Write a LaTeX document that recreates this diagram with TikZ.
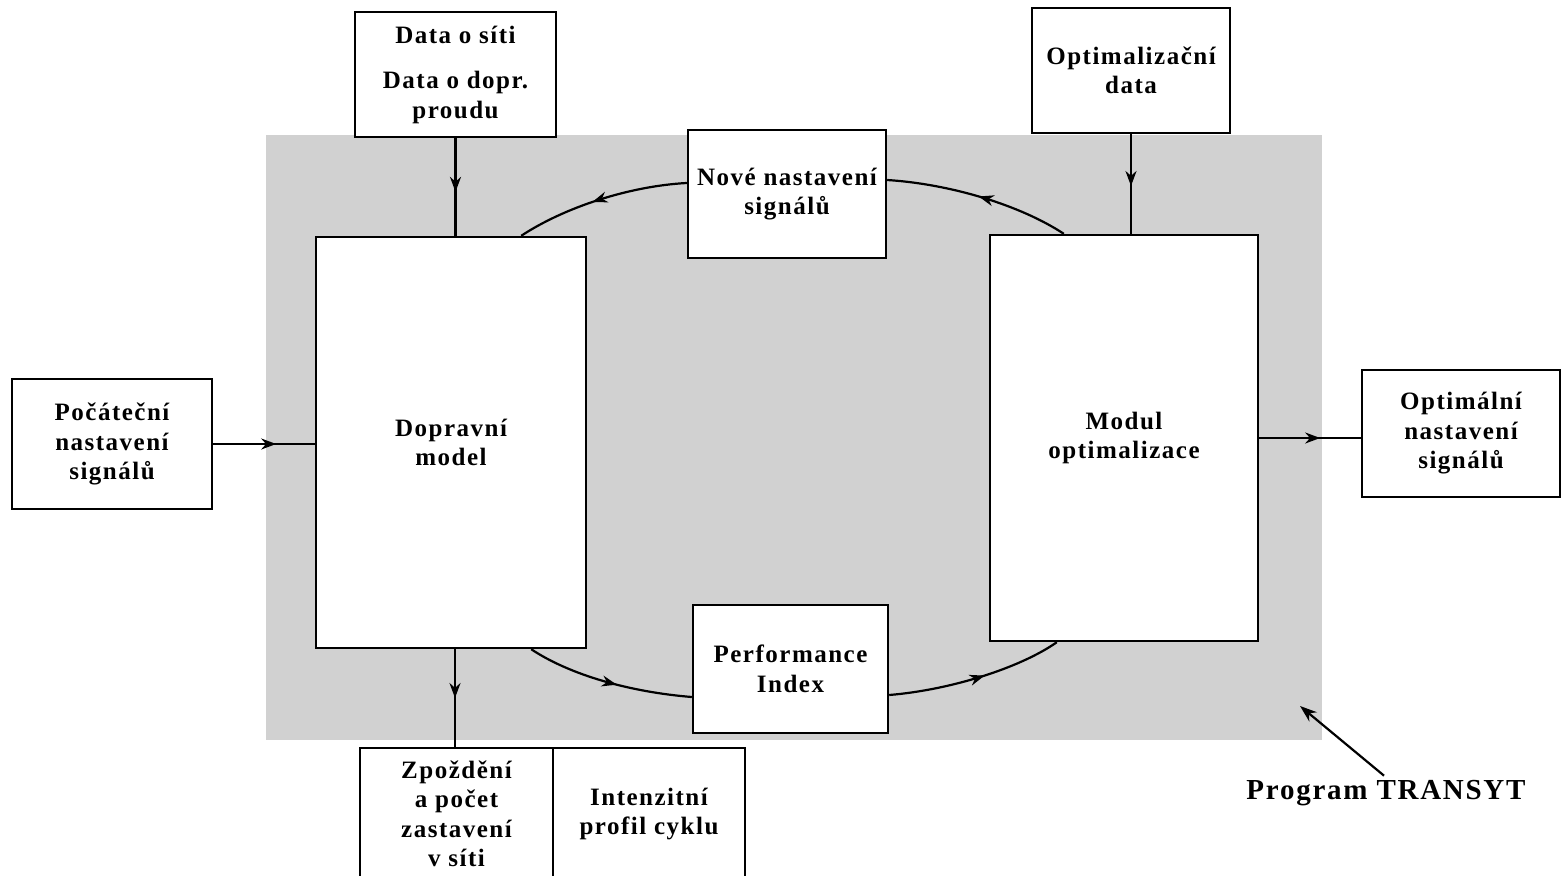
\documentclass[tikz,border=0pt]{standalone}
\usepackage{fontspec}
\setmainfont{Liberation Serif}
\newfontfamily\diafont[LetterSpace=6]{Liberation Serif}
\usetikzlibrary{arrows.meta,decorations.markings,calc}
\tikzset{
  box/.style={draw,line width=2.4pt,fill=white,align=center,inner sep=0pt,
    font=\diafont\bfseries\fontsize{25}{29.5}\selectfont},
  conn/.style={line width=2.2pt},
  midarrow/.style={conn,postaction={decorate},decoration={markings,
    mark=at position #1 with {\arrow{Stealth[length=15pt,width=11pt]}}}},
  shade/.style={fill=black!18,draw=none}
}
\begin{document}
\begin{tikzpicture}[x=1pt,y=-1pt]
\useasboundingbox (0,0) rectangle (1562,875);
\fill[white] (0,0) rectangle (1562,875);
\path[shade] (266,135) rectangle (1322,740);

\node[box,minimum width=201pt,minimum height=125pt] (data) at (455.5,74.5)
  {Data o síti\\[16pt]Data o dopr.\\proudu};
\node[box,minimum width=198pt,minimum height=125pt] (optdata) at (1131,70.5)
  {Optimalizační\\data};
\node[box,minimum width=198pt,minimum height=128pt] (nove) at (787,194)
  {Nové nastavení\\signálů};
\node[box,minimum width=270pt,minimum height=411pt] (dop) at (451,442.5)
  {Dopravní\\model};
\node[box,minimum width=268pt,minimum height=406pt] (modul) at (1124,438)
  {Modul\\optimalizace};
\node[box,minimum width=200pt,minimum height=130pt] (pocat) at (112,444)
  {Počáteční\\nastavení\\signálů};
\node[box,minimum width=198pt,minimum height=127pt] (optim) at (1461,433.5)
  {Optimální\\nastavení\\signálů};
\node[box,minimum width=195pt,minimum height=128pt] (perf) at (790.5,669)
  {Performance\\Index};
\node[box,minimum width=193pt,minimum height=132pt] (zpoz) at (456.5,814)
  {Zpoždění\\a počet\\zastavení\\v síti};
\node[box,minimum width=192pt,minimum height=132pt] (inten) at (649,814)
  {Intenzitní\\profil cyklu};

\node[font=\diafont\bfseries\fontsize{29}{33}\selectfont] (prog) at (1386,793) {Program TRANSYT};
\coordinate (progtip) at (1300,706);

% straight connectors
\draw[midarrow=0.55] (data.south) -- (data.south |- dop.north);
\draw[midarrow=0.52] (optdata.south) -- (optdata.south |- modul.north);
\draw[midarrow=0.62] (pocat.east) -- (pocat.east -| dop.west);
\draw[midarrow=0.6] (modul.east) -- (modul.east -| optim.west);
\draw[midarrow=0.5] ([xshift=4pt]dop.south) -- ([xshift=4pt]dop.south |- zpoz.north);

% arcs
\draw[midarrow=0.55] ([yshift=11pt]nove.west) .. controls (630,186) and (565,207) .. ([xshift=-66pt]dop.north east);
\draw[midarrow=0.5] ([xshift=75pt]modul.north west) .. controls (1020,205) and (950,184) .. ([yshift=14pt]nove.east);
\draw[midarrow=0.55] ([xshift=-56pt]dop.south east) .. controls (570,675) and (630,692) .. ([yshift=-28pt]perf.west);
\draw[midarrow=0.55] ([yshift=-26pt]perf.east) .. controls (950,690) and (1020,668) .. ([xshift=68pt]modul.south west);

% label arrow
\draw[conn,-{Stealth[length=17pt,width=12pt]}] ([xshift=-2pt,yshift=1pt]prog.north) -- (progtip);
\end{tikzpicture}
\end{document}
